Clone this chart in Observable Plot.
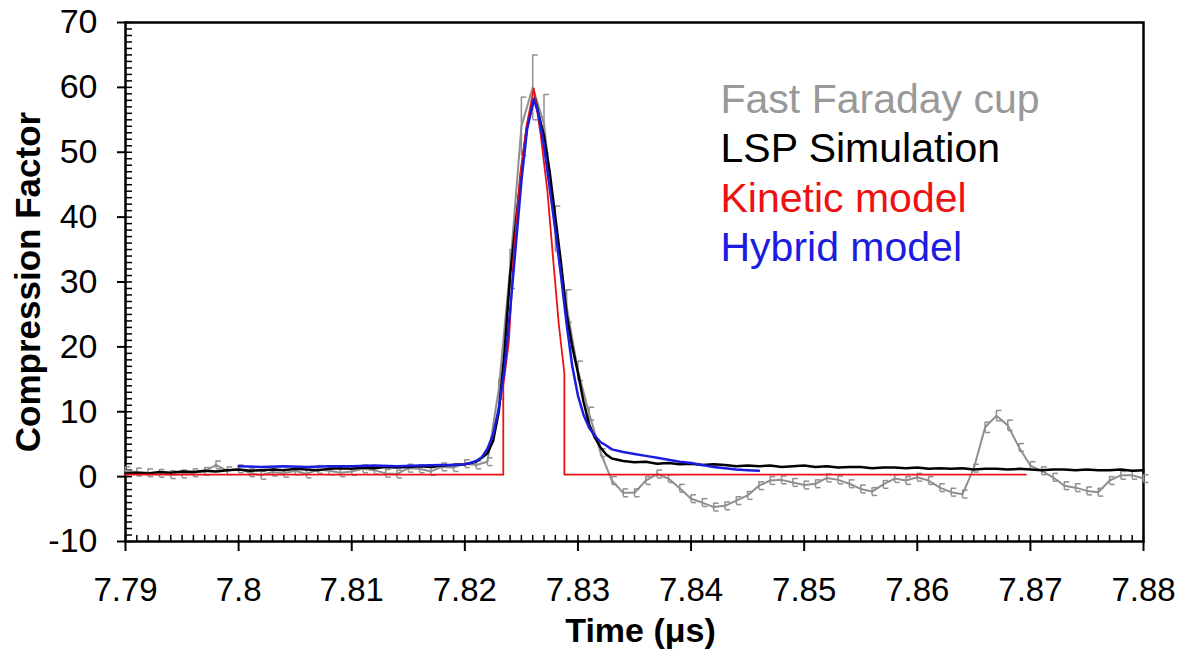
<!DOCTYPE html>
<html>
<head>
<meta charset="utf-8">
<script src="https://cdn.jsdelivr.net/npm/d3@7"></script>
<script src="https://cdn.jsdelivr.net/npm/@observablehq/plot@0.6"></script>
<style>
  html, body { margin: 0; padding: 0; background: #fff; }
  #chart { width: 1183px; height: 649px; }
</style>
</head>
<body>
<div id="chart"></div>
<script>
// ---- Data ----
const xTicks = [7.79, 7.8, 7.81, 7.82, 7.83, 7.84, 7.85, 7.86, 7.87, 7.88];
const yTicks = [-10, 0, 10, 20, 30, 40, 50, 60, 70];

// Fast Faraday cup (measured, with error bars)
const fcT = [7.790,7.791,7.792,7.793,7.794,7.795,7.796,7.797,7.798,7.799,
  7.800,7.801,7.802,7.803,7.804,7.805,7.806,7.807,7.808,7.809,
  7.810,7.811,7.812,7.813,7.814,7.815,7.816,7.817,7.818,7.819,
  7.820,7.821,7.822,7.823,7.824,7.825,7.826,7.827,7.828,7.829,
  7.830,7.831,7.832,7.833,7.834,7.835,7.836,7.837,7.838,7.839,
  7.840,7.841,7.842,7.843,7.844,7.845,7.846,7.847,7.848,7.849,
  7.850,7.851,7.852,7.853,7.854,7.855,7.856,7.857,7.858,7.859,
  7.860,7.861,7.862,7.863,7.864,7.865,7.866,7.867,7.868,7.869,
  7.870,7.871,7.872,7.873,7.874,7.875,7.876,7.877,7.878,7.879,7.880];
const fcV = [0.9,0.7,0.6,0.5,0.3,0.4,0.6,0.8,1.8,0.9,
  1.2,0.6,0.2,0.7,0.5,0.9,0.4,1.1,0.9,0.6,
  0.8,1.2,1.0,0.5,0.4,1.3,1.2,0.8,1.5,1.4,
  2.0,1.8,2.3,13.5,32,54,60,54.4,38.2,26.3,
  16.3,9.7,3.7,-0.6,-2.5,-2.5,-0.6,0.4,-0.3,-1.8,
  -3.4,-4.0,-4.7,-4.5,-3.7,-2.9,-1.4,-0.6,-0.5,-0.9,
  -1.3,-1.1,-0.2,-0.5,-1.1,-1.9,-2.3,-1.2,-0.3,-0.6,
  -0.1,-0.6,-1.7,-2.4,-2.7,1.3,7.6,9.4,7.9,4.5,
  1.7,0.9,-0.1,-1.4,-1.7,-2.2,-2.4,-0.6,0.2,0.2,-0.3];
const fcErr = [0.6,0.6,0.6,0.6,0.6,0.6,0.6,0.6,0.6,0.6,
  0.6,0.6,0.6,0.6,0.6,0.6,0.6,0.6,0.6,0.6,
  0.6,0.6,0.6,0.6,0.6,0.6,0.6,0.6,0.6,0.6,
  0.6,0.6,0.6,1.5,3.0,4.5,5.0,4.5,3.5,2.5,
  1.5,1.0,0.6,0.6,0.6,0.6,0.6,0.6,0.6,0.6,
  0.6,0.6,0.6,0.6,0.6,0.6,0.6,0.6,0.6,0.6,
  0.6,0.6,0.6,0.6,0.6,0.6,0.6,0.6,0.6,0.6,
  0.6,0.6,0.6,0.6,0.6,0.6,0.8,0.8,0.8,0.6,
  0.6,0.6,0.6,0.6,0.6,0.6,0.6,0.6,0.6,0.6,0.6];

// LSP Simulation
const lspT = [7.790,7.791,7.792,7.793,7.794,7.795,7.796,7.797,7.798,7.799,
  7.800,7.801,7.802,7.803,7.804,7.805,7.806,7.807,7.808,7.809,
  7.810,7.811,7.812,7.813,7.814,7.815,7.816,7.817,7.818,7.819,
  7.820,7.8205,7.821,7.8215,7.822,7.8225,7.823,7.8235,7.824,7.8245,
  7.825,7.8255,7.826,7.8262,7.8265,7.827,7.8275,7.828,7.8285,7.829,
  7.8295,7.830,7.8305,7.831,7.8315,7.832,7.8325,7.833,
  7.834,7.835,7.836,7.837,7.838,7.839,7.840,7.841,7.842,7.843,
  7.844,7.845,7.846,7.847,7.848,7.849,7.850,7.851,7.852,7.853,
  7.854,7.855,7.856,7.857,7.858,7.859,7.860,7.861,7.862,7.863,
  7.864,7.865,7.866,7.867,7.868,7.869,7.870,7.871,7.872,7.873,
  7.874,7.875,7.876,7.877,7.878,7.879,7.880];
const lspV = [0.5,0.6,0.5,0.7,0.6,0.8,0.7,0.9,0.8,1.0,
  1.1,0.9,1.0,1.1,1.0,1.2,1.1,1.0,1.2,1.3,
  1.2,1.4,1.3,1.5,1.4,1.5,1.6,1.5,1.7,1.8,
  1.9,2.1,2.3,2.9,3.6,5.5,10,19,31,39,
  47,54,57.5,58.3,56,52.5,47,40,33,25,
  20,16,11.5,8,6,4.5,3.4,2.8,
  2.4,2.2,2.3,2.0,2.1,1.9,2.0,1.8,1.9,1.8,
  1.6,1.7,1.6,1.7,1.5,1.6,1.7,1.5,1.6,1.4,
  1.5,1.5,1.3,1.4,1.4,1.3,1.4,1.2,1.3,1.2,
  1.3,1.1,1.2,1.2,1.1,1.2,1.1,1.0,1.1,1.1,
  1.0,1.1,1.0,1.0,1.1,0.9,1.0];

// Kinetic model
const kinT = [7.790, 7.8234, 7.8234, 7.8239, 7.8243, 7.8249, 7.8255, 7.8261, 7.8267, 7.8273, 7.8278, 7.8283, 7.8288, 7.8288, 7.8696];
const kinV = [0.3, 0.3, 14, 21, 33.7, 46.7, 54.4, 59.8, 52.8, 44, 33.7, 23.6, 15.9, 0.3, 0.3];

// Hybrid model
const hybT = [7.800,7.802,7.804,7.806,7.808,7.810,7.812,7.814,7.816,7.818,7.819,
  7.820,7.8205,7.821,7.8215,7.822,7.8225,7.823,7.8235,7.824,7.8245,
  7.825,7.8255,7.8261,7.8265,7.827,7.8275,7.828,7.8285,7.829,7.8295,
  7.830,7.8305,7.831,7.8315,7.832,7.8325,7.833,7.834,7.835,7.836,
  7.837,7.838,7.839,7.840,7.841,7.842,7.843,7.844,7.845,7.846];
const hybV = [1.6,1.5,1.6,1.5,1.6,1.6,1.7,1.6,1.7,1.8,1.8,
  1.9,2.1,2.4,3.0,4.3,6.5,10.5,16.5,25.5,35.5,
  45.5,53.5,58.2,56,51,44.5,38,31,23.5,17,
  12.5,9.5,7.5,6.3,5.3,4.8,4.2,3.8,3.5,3.2,
  2.9,2.6,2.3,2.1,1.8,1.5,1.3,1.1,1.0,0.9];

const legendLabels = ["Fast Faraday cup", "LSP Simulation", "Kinetic model", "Hybrid model"];
const legendColors = ["#999999", "#000000", "#ee1111", "#1c1ce0"];

// ---- Tables ----
const fc = fcT.map((t, i) => ({t, v: fcV[i], e: fcErr[i]}));
const lsp = lspT.map((t, i) => ({t, v: lspV[i]}));
const kin = kinT.map((t, i) => ({t, v: kinV[i]}));
const hyb = hybT.map((t, i) => ({t, v: hybV[i]}));
const minorX = d3.range(7790, 7881).map(d => d / 1000);
const minorY = d3.range(-10, 71);

const GREY = "#8f8f8f";
const capSymbol = { draw(ctx) { ctx.moveTo(0, 0); ctx.lineTo(5, 0); } };

const font = "'Liberation Sans', Arial, Helvetica, sans-serif";

const chart = Plot.plot({
  width: 1183,
  height: 649,
  marginLeft: 125,
  marginRight: 40,
  marginTop: 22,
  marginBottom: 108,
  style: { fontFamily: font, background: "#fff", color: "#000" },
  x: { domain: [7.79, 7.88] },
  y: { domain: [-10, 70] },
  marks: [
    // minor ticks (inward)
    Plot.axisY(minorY, { anchor: "left", tickSize: 7, dx: 7, tickFormat: () => "", label: null, strokeWidth: 1.5 }),
    Plot.axisX(minorX, { anchor: "bottom", tickSize: 6, dy: -6, tickFormat: () => "", label: null, strokeWidth: 1.5 }),
    // major ticks + labels
    Plot.axisY(yTicks, { anchor: "left", tickSize: 8, tickPadding: 20, tickFormat: d => String(d), label: null, fontSize: 34, strokeWidth: 2 }),
    Plot.axisX(xTicks, { anchor: "bottom", tickSize: 10, tickPadding: 26, tickFormat: d => String(+d.toFixed(2)), label: null, fontSize: 33, strokeWidth: 2 }),
    Plot.frame({ stroke: "#000", strokeWidth: 2.5 }),
    // Fast Faraday cup
    Plot.ruleX(fc, { x: "t", y1: d => d.v - d.e, y2: d => d.v + d.e, stroke: GREY, strokeWidth: 1.5 }),
    Plot.lineY(fc, { x: "t", y: "v", stroke: GREY, strokeWidth: 2 }),
    Plot.dot(fc, { x: "t", y: d => d.v + d.e, symbol: capSymbol, r: 3, stroke: GREY, fill: "none", strokeWidth: 1.5 }),
    Plot.dot(fc, { x: "t", y: d => d.v - d.e, symbol: capSymbol, r: 3, stroke: GREY, fill: "none", strokeWidth: 1.5 }),
    // LSP Simulation
    Plot.lineY(lsp, { x: "t", y: "v", stroke: "#000", strokeWidth: 2.5 }),
    // Kinetic model
    Plot.lineY(kin, { x: "t", y: "v", stroke: legendColors[2], strokeWidth: 1.8 }),
    // Hybrid model
    Plot.lineY(hyb, { x: "t", y: "v", stroke: legendColors[3], strokeWidth: 2.5 }),
    // legend
    ...legendLabels.map((lab, i) => Plot.text([lab], {
      frameAnchor: "top-left", text: d => d, textAnchor: "start", lineAnchor: "middle",
      dx: 595, dy: 77 + i * 49.5, fill: legendColors[i], fontSize: 41, fontFamily: font
    })),
    // axis titles
    Plot.text(["Compression Factor"], {
      frameAnchor: "left", text: d => d, rotate: -90, textAnchor: "middle", lineAnchor: "middle",
      dx: -97, fontSize: 35, fontWeight: "bold", fill: "#000"
    }),
    Plot.text(["Time (μs)"], {
      frameAnchor: "bottom", text: d => d, textAnchor: "middle", dx: 6, dy: 90, fontSize: 34, fontWeight: "bold", fill: "#000", lineAnchor: "middle"
    })
  ]
});

document.getElementById("chart").appendChild(chart);
</script>
</body>
</html>
